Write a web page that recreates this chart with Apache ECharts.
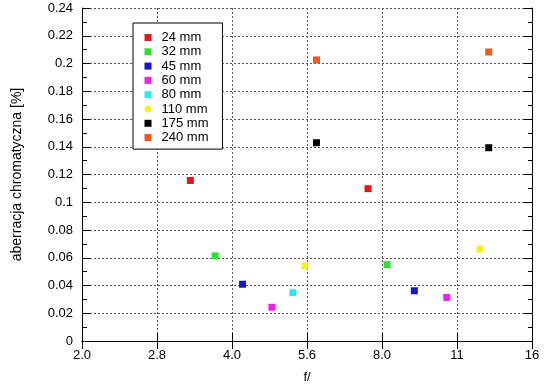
<!DOCTYPE html>
<html>
<head>
<meta charset="utf-8">
<script src="https://cdn.jsdelivr.net/npm/echarts@6/dist/echarts.min.js"></script>
<style>html,body{margin:0;padding:0;background:#fff}#c{width:550px;height:389px}</style>
</head>
<body>
<div id="c"></div>
<script>
var seriesNames = ['24 mm','32 mm','45 mm','60 mm','80 mm','110 mm','175 mm','240 mm'];
var colors = ['#e81515','#2ee02e','#1414c8','#ee22e6','#2ee8ee','#f2f222','#000000','#ee5a1a'];
var xTickLabels = ['2.0','2.8','4.0','5.6','8.0','11','16'];

var x24 = [3.30, 7.50],  y24 = [0.1157, 0.1098];
var x32 = [3.70, 8.19],  y32 = [0.0614, 0.0550];
var x45 = [4.20, 9.29],  y45 = [0.0409, 0.0362];
var x60 = [4.81, 10.79], y60 = [0.0243, 0.0314];
var x80 = [5.30],        y80 = [0.0348];
var x110 = [5.60, 12.58], y110 = [0.0542, 0.0662];
var x175 = [5.91, 13.1], y175 = [0.1429, 0.1393];
var x240 = [5.91, 13.1], y240 = [0.2026, 0.2083];

var xs = [x24,x32,x45,x60,x80,x110,x175,x240];
var ys = [y24,y32,y45,y60,y80,y110,y175,y240];

var font = "'Liberation Sans', Arial, sans-serif";
var chart = echarts.init(document.getElementById('c'));

function pair(xa, ya){ return xa.map(function(v,i){ return [v, ya[i]]; }); }

var series = seriesNames.map(function(n, i){
  return {
    name: n, type: 'scatter', xAxisIndex: 0, yAxisIndex: 0,
    symbol: 'rect',
    symbolSize: 7,
    itemStyle: {color: colors[i], opacity: 1},
    emphasis: {disabled: true},
    data: pair(xs[i], ys[i]),
    z: 5
  };
});

var sq = 'path://M0,0L1,0L1,1L0,1Z';
var legendData = seriesNames.map(function(n, i){
  return {name: n, icon: i === 5 ? 'circle' : sq};
});

function xLab(v){
  var k = Math.round(Math.log(v)/Math.log(Math.SQRT2)) - 2;
  return xTickLabels[k] !== undefined ? xTickLabels[k] : '';
}

var gridLine = {show: true, lineStyle: {color: '#555', width: 1, type: [2, 2]}};
var axisLine = {show: true, lineStyle: {color: '#000', width: 1}};

var option = {
  animation: false,
  backgroundColor: '#fff',
  textStyle: {fontFamily: font},
  grid: {left: 82, right: 18, top: 8, bottom: 45, containLabel: false},
  legend: {
    orient: 'vertical', left: 133, top: 23,
    data: legendData,
    itemWidth: 17, itemHeight: 7, itemGap: 1.3,
    symbolKeepAspect: true,
    padding: [8, 14, 5, 11.5],
    borderColor: '#000', borderWidth: 1, backgroundColor: '#fff',
    textStyle: {fontFamily: font, fontSize: 13, color: '#000'},
    selectedMode: false
  },
  xAxis: [{
    type: 'log', logBase: Math.SQRT2, min: 2, max: 16, splitNumber: 6,
    position: 'bottom',
    name: 'f/', nameLocation: 'middle', nameGap: 30,
    nameTextStyle: {fontFamily: font, fontSize: 13, color: '#000'},
    axisLine: axisLine,
    axisTick: {show: true, inside: true, length: 8, lineStyle: {color: '#000'}},
    axisLabel: {formatter: xLab, fontFamily: font, fontSize: 13, color: '#000', margin: 8},
    splitLine: gridLine,
    minorTick: {show: false}
  }, {
    type: 'log', logBase: Math.SQRT2, min: 2, max: 16, splitNumber: 6,
    position: 'top',
    axisLine: axisLine,
    axisTick: {show: true, inside: true, length: 8, lineStyle: {color: '#000'}},
    axisLabel: {show: false},
    splitLine: {show: false}
  }],
  yAxis: [{
    type: 'value', min: 0, max: 0.24, interval: 0.02,
    position: 'left',
    name: 'aberracja chromatyczna [%]', nameLocation: 'middle', nameGap: 58,
    nameTextStyle: {fontFamily: font, fontSize: 14, color: '#000'},
    axisLine: axisLine,
    axisTick: {show: true, inside: true, length: 8, lineStyle: {color: '#000'}},
    minorTick: {show: true, splitNumber: 2, length: 5, lineStyle: {color: '#000'}},
    axisLabel: {fontFamily: font, fontSize: 13, color: '#000', margin: 9},
    splitLine: gridLine
  }, {
    type: 'value', min: 0, max: 0.24, interval: 0.02,
    position: 'right',
    axisLine: axisLine,
    axisTick: {show: true, inside: true, length: 8, lineStyle: {color: '#000'}},
    minorTick: {show: true, splitNumber: 2, length: 4, lineStyle: {color: '#000'}},
    axisLabel: {show: false},
    splitLine: {show: false}
  }],
  series: series
};
chart.setOption(option);
</script>
</body>
</html>
